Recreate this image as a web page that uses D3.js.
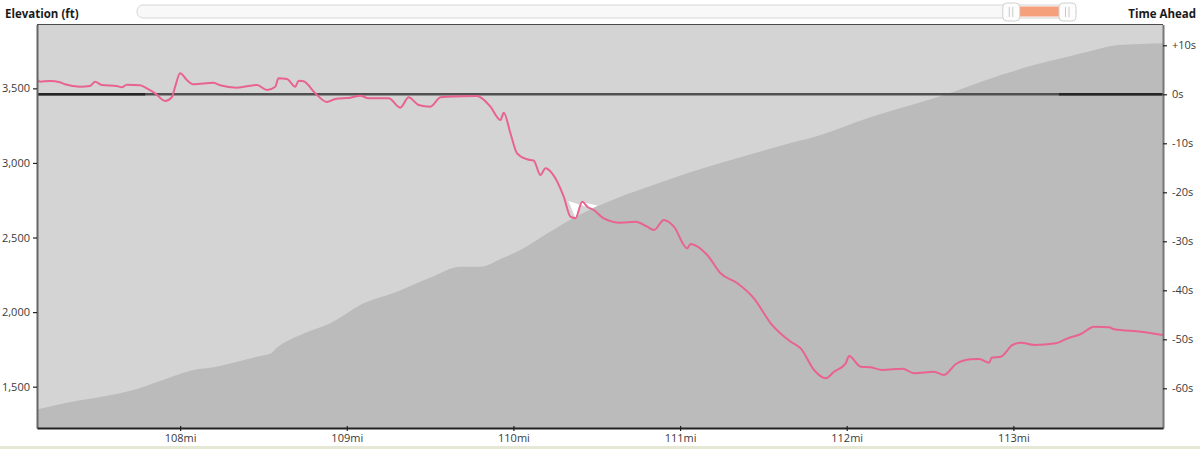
<!DOCTYPE html>
<html><head><meta charset="utf-8">
<script src="https://cdn.jsdelivr.net/npm/d3@7"></script>
<style>
body{margin:0;background:#fff;overflow:hidden;}
svg{display:block;font-family:"Segoe UI","Open Sans","Noto Sans",sans-serif;}
</style>
</head><body><svg id="chart" width="1200" height="449"></svg>
<script>
// ---------- DATA ----------
const elevMiles = [107.141,107.320,107.520,107.720,107.880,108.080,108.200,108.360,108.480,108.541,108.581,108.721,108.901,109.101,109.301,109.502,109.682,109.802,109.922,110.042,110.198,110.360,110.643,110.823,111.043,111.243,111.441,111.664,111.844,112.124,112.324,112.523,112.725,112.925,113.123,113.326,113.465,113.626,113.766,113.898];
const elevFeet  = [1347,1393,1431,1478,1538,1612,1630,1672,1706,1720,1762,1847,1925,2059,2137,2232,2304,2304,2356,2416,2523,2631,2774,2845,2930,2999,3064,3133,3187,3299,3368,3433,3511,3589,3656,3712,3750,3790,3797,3802];

const timeMiles = [107.143,107.159,107.219,107.279,107.309,107.399,107.459,107.489,107.530,107.620,107.650,107.680,107.760,107.800,107.850,107.910,107.950,107.970,108.000,108.040,108.080,108.200,108.240,108.341,108.461,108.521,108.571,108.590,108.641,108.691,108.711,108.741,108.811,108.881,108.931,109.021,109.081,109.131,109.251,109.321,109.371,109.431,109.502,109.562,109.602,109.782,109.812,109.862,109.922,109.942,109.982,110.022,110.082,110.122,110.162,110.192,110.232,110.302,110.342,110.372,110.413,110.443,110.482,110.542,110.643,110.733,110.803,110.843,110.903,110.963,111.043,111.063,111.163,111.243,111.344,111.443,111.544,111.664,111.724,111.804,111.874,111.924,111.994,112.014,112.084,112.144,112.214,112.335,112.404,112.524,112.584,112.655,112.745,112.795,112.855,112.869,112.925,112.995,113.045,113.125,113.255,113.326,113.405,113.485,113.575,113.605,113.766,113.898];
const timeSecs  = [2.92,2.57,2.71,2.45,2.04,1.55,1.69,2.57,1.90,1.69,1.43,1.96,1.84,1.22,0.20,-1.37,-0.61,1.55,4.29,2.92,2.04,2.37,1.84,1.35,1.90,0.88,1.55,3.27,3.12,1.55,2.78,2.65,0.20,-1.57,-0.96,-0.69,-0.29,-0.82,-0.82,-2.73,-0.61,-2.18,-2.53,-0.61,-0.49,-0.35,-0.82,-2.53,-5.24,-3.76,-7.96,-12.04,-13.27,-13.55,-16.47,-15.10,-16.12,-20.90,-24.98,-25.31,-21.92,-22.94,-23.61,-25.31,-26.20,-26.00,-27.02,-27.69,-25.65,-27.02,-31.43,-30.55,-32.80,-36.53,-38.57,-41.63,-46.73,-50.49,-51.84,-56.27,-57.96,-56.61,-54.90,-53.41,-55.59,-55.71,-56.27,-56.00,-56.94,-56.61,-57.29,-55.04,-54.08,-54.02,-54.78,-53.76,-53.55,-51.16,-50.69,-51.16,-50.82,-49.80,-48.92,-47.43,-47.55,-47.96,-48.45,-49.12];

// small white gap patch near 110.4mi (miles, seconds)
const gapMiles = [110.330,110.372,110.408,110.505,110.470];
const gapSecs  = [-21.78,-25.24,-21.98,-22.69,-23.30];

// darker segments of the zero line (miles)
const zeroDarkStart = [107.141,113.273];
const zeroDarkEnd   = [107.790,113.898];

const xTicks = [108,109,110,111,112,113];
const xTickLabels = ["108mi","109mi","110mi","111mi","112mi","113mi"];
const elevTicks = [1500,2000,2500,3000,3500];
const elevTickLabels = ["1,500","2,000","2,500","3,000","3,500"];
const timeTicks = [10,0,-10,-20,-30,-40,-50,-60];
const timeTickLabels = ["+10s","0s","-10s","-20s","-30s","-40s","-50s","-60s"];

const xDomain = [107.141,113.898];
const elevDomain = [1223,3928];
const timeDomain = [-68.1,14.24];

// slider range (fraction of track)
const sliderRange = [0.922,1.0];

// ---------- DRAW ----------
const svg = d3.select("#chart");
const L=37, R=1163, T=24.5, B=428;

const x = d3.scaleLinear().domain(xDomain).range([L,R]);
const yE = d3.scaleLinear().domain(elevDomain).range([B,T]);
const yT = d3.scaleLinear().domain(timeDomain).range([B,T]);

svg.append("defs").append("clipPath").attr("id","clip")
  .append("rect").attr("x",L).attr("y",T).attr("width",R-L).attr("height",B-T);

svg.append("rect").attr("x",L).attr("y",T).attr("width",R-L).attr("height",B-T).attr("fill","#d4d4d4");

const g = svg.append("g").attr("clip-path","url(#clip)");

const elevData = elevMiles.map((m,i)=>({m, v:elevFeet[i]}));
g.append("path").datum(elevData)
  .attr("fill","#bbbbbb")
  .attr("d", d3.area().curve(d3.curveMonotoneX).x(d=>x(d.m)).y0(B).y1(d=>yE(d.v)));

const gapData = gapMiles.map((m,i)=>[x(m), yT(gapSecs[i])]);
g.append("path").attr("d", d3.line()(gapData)+"Z").attr("fill","#ffffff");

g.append("line").attr("x1",L).attr("x2",R).attr("y1",yT(0)).attr("y2",yT(0))
  .attr("stroke","#505050").attr("stroke-width",2.5);
zeroDarkStart.forEach((s,i)=>{
  g.append("line").attr("x1",x(s)).attr("x2",x(zeroDarkEnd[i])).attr("y1",yT(0)).attr("y2",yT(0))
    .attr("stroke","#262626").attr("stroke-width",2.5);
});

const timeData = timeMiles.map((m,i)=>({m, v:timeSecs[i]}));
g.append("path").datum(timeData)
  .attr("fill","none").attr("stroke","#e8638f").attr("stroke-width",2)
  .attr("stroke-linejoin","round")
  .attr("d", d3.line().curve(d3.curveMonotoneX).x(d=>x(d.m)).y(d=>yT(d.v)));

svg.append("line").attr("x1",L).attr("x2",R).attr("y1",T).attr("y2",T)
  .attr("stroke","#4a4a4a").attr("stroke-width",1);

function styleAxis(sel, domainColor){
  sel.select(".domain").attr("stroke",domainColor).attr("stroke-width",2);
  sel.selectAll(".tick line").attr("stroke","#222").attr("stroke-width",1.2);
  sel.selectAll(".tick text").attr("fill","#3a3a3a").style("font-size","11px")
    .style("font-family",'"Segoe UI","Open Sans","Noto Sans",sans-serif');
}

const axL = svg.append("g").attr("transform",`translate(${L},0)`)
  .call(d3.axisLeft(yE).tickValues(elevTicks).tickFormat((d,i)=>elevTickLabels[i]).tickSizeInner(4).tickSizeOuter(0).tickPadding(3));
styleAxis(axL,"#666");

const axR = svg.append("g").attr("transform",`translate(${R},0)`)
  .call(d3.axisRight(yT).tickValues(timeTicks).tickFormat((d,i)=>timeTickLabels[i]).tickSizeInner(4).tickSizeOuter(0).tickPadding(5));
styleAxis(axR,"#777");

const axB = svg.append("g").attr("transform",`translate(0,${B})`)
  .call(d3.axisBottom(x).tickValues(xTicks).tickFormat((d,i)=>xTickLabels[i]).tickSizeInner(3).tickSizeOuter(0).tickPadding(3));
styleAxis(axB,"#222");
axB.selectAll(".tick line").attr("y1",-2);

svg.append("text").attr("x",5).attr("y",18).text("Elevation (ft)")
  .attr("font-weight","bold").attr("font-size","11.5px").attr("fill","#1a1a1a");
svg.append("text").attr("x",1196).attr("y",18).attr("text-anchor","end").text("Time Ahead")
  .attr("font-weight","bold").attr("font-size","11.5px").attr("fill","#1a1a1a");

// slider
const trackX0=137, trackX1=1076, hw=17;
const sx = d3.scaleLinear().domain([0,1]).range([trackX0,trackX1]);
svg.append("rect").attr("x",trackX0).attr("y",5).attr("width",trackX1-trackX0).attr("height",13)
  .attr("rx",6).attr("fill","#f8f8f8").attr("stroke","#d6d6d6");
const h0 = sx(sliderRange[0]), h1 = sx(sliderRange[1]) - hw;
svg.append("rect").attr("x",h0+hw).attr("y",6.5).attr("width",h1-(h0+hw))
  .attr("height",10).attr("fill","#f5a07a");
[h0,h1].forEach(hx=>{
  svg.append("rect").attr("x",hx).attr("y",3).attr("width",hw).attr("height",18).attr("rx",4)
    .attr("fill","#fdfdfd").attr("stroke","#d0d0d0");
  [6.5,10].forEach(o=>{
    svg.append("line").attr("x1",hx+o).attr("x2",hx+o).attr("y1",7).attr("y2",17)
      .attr("stroke","#c8c8c8").attr("stroke-width",1);
  });
});

svg.append("rect").attr("x",0).attr("y",446).attr("width",1200).attr("height",3).attr("fill","#e6e8d6");
</script></body></html>
